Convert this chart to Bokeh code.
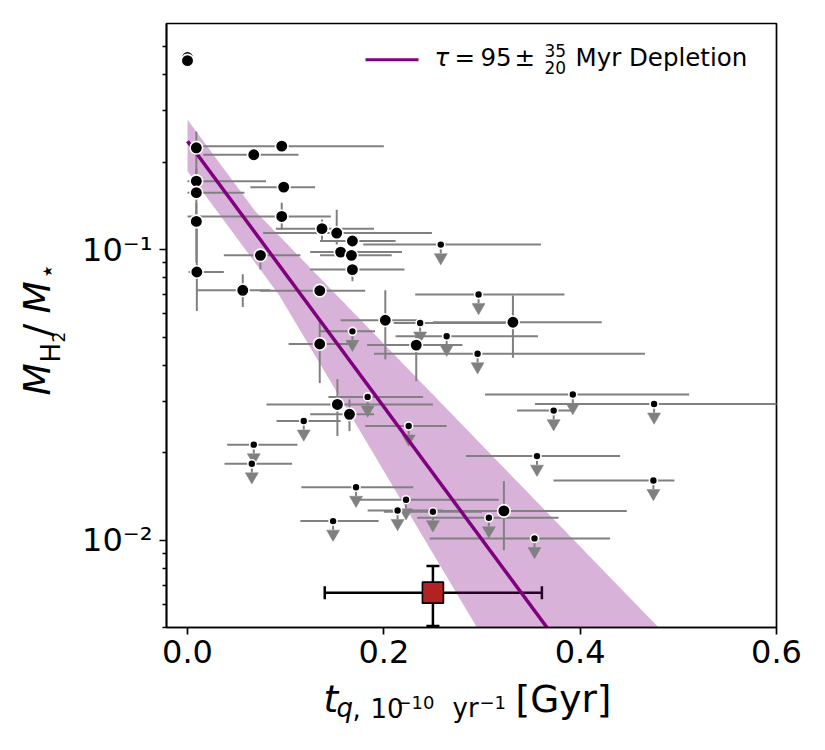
import numpy as np
from bokeh.plotting import figure
from bokeh.layouts import row, column
from bokeh.models import (Range1d, FixedTicker, Label, BoxAnnotation, ColumnDataSource,
                          Whisker, TeeHead, NumeralTickFormatter)
from bokeh.embed import file_html
from bokeh.resources import INLINE

nan = float("nan")

det_t = [0.000, 0.000, 0.009, 0.096, 0.0675, 0.009, 0.009, 0.098, 0.096, 0.009,
         0.137, 0.152, 0.168, 0.0743, 0.156, 0.167, 0.168, 0.0095, 0.0563, 0.1347,
         0.2015, 0.3315, 0.1347, 0.233, 0.1527, 0.165, 0.3223]
det_f = [0.458, 0.447, 0.224, 0.227, 0.212, 0.172, 0.157, 0.164, 0.130, 0.125,
         0.118, 0.114, 0.107, 0.0955, 0.098, 0.0955, 0.0853, 0.0837, 0.0724, 0.0722,
         0.0571, 0.0562, 0.0473, 0.0469, 0.0293, 0.0271, 0.0126]
det_t_lo = [nan, nan, nan, 0.016, 0.016, 0.000, 0.000, 0.064, 0.000, nan,
            0.090, 0.077, 0.135, 0.037, 0.125, 0.135, 0.125, 0.001, 0.0099, 0.074,
            0.156, 0.250, 0.103, 0.183, 0.0805, 0.125, 0.220]
det_t_hi = [nan, nan, nan, 0.200, 0.113, 0.080, 0.058, 0.130, 0.146, nan,
            0.190, 0.249, 0.212, 0.115, 0.2185, 0.208, 0.221, 0.037, 0.0845, 0.181,
            0.234, 0.422, 0.166, 0.280, 0.250, 0.190, 0.4475]
det_f_lo = [nan, nan, 0.160, nan, nan, nan, 0.130, nan, 0.117, 0.090,
            0.108, 0.104, nan, 0.0854, nan, nan, 0.0778, 0.0614, 0.0634, nan,
            0.0419, 0.0424, 0.0347, 0.0352, 0.0228, 0.0237, 0.00923]
det_f_hi = [nan, nan, 0.255, nan, nan, nan, 0.190, nan, 0.145, 0.145,
            0.127, 0.137, nan, 0.100, nan, nan, 0.090, 0.118, 0.0822, nan,
            0.0724, 0.0695, 0.0575, 0.0500, 0.0358, 0.0305, 0.01596]

ul_t = [0.258, 0.2965, 0.237, 0.168, 0.264, 0.2955, 0.3925, 0.1835, 0.4753, 0.373,
        0.1184, 0.2253, 0.0675, 0.356, 0.0655, 0.4746, 0.1717, 0.2226, 0.214, 0.250,
        0.307, 0.1483, 0.3535]
ul_f = [0.104, 0.070, 0.0559, 0.0523, 0.0503, 0.0438, 0.0317, 0.0311, 0.0294, 0.0279,
        0.0257, 0.0247, 0.0213, 0.01945, 0.0183, 0.01604, 0.0152, 0.01377, 0.01264, 0.01251,
        0.01193, 0.01162, 0.01013]
ul_t_lo = [0.179, 0.232, 0.210, 0.134, 0.212, 0.190, 0.303, 0.1435, 0.354, 0.3356,
           0.0906, 0.181, 0.0404, 0.2836, 0.0377, 0.3728, 0.116, 0.173, 0.1835, 0.200,
           0.234, 0.115, 0.2466]
ul_t_hi = [0.360, 0.384, 0.324, 0.191, 0.357, 0.466, 0.511, 0.240, 0.620, 0.393,
           0.156, 0.264, 0.112, 0.4407, 0.1066, 0.496, 0.230, 0.317, 0.260, 0.300,
           0.378, 0.1947, 0.4305]

ref_t, ref_f = [0.25], [0.00659]
ref_t_lo, ref_t_hi = [0.1398], [0.361]
ref_f_lo, ref_f_hi = [0.00506], [0.00814]

fit_A, fit_tau = 0.236, 0.095
band_A_lo, band_A_hi = 0.186, 0.28
band_tau_lo, band_tau_hi = 0.0765, 0.1245

x_ticks = [0.0, 0.2, 0.4, 0.6]
y_ticks = [0.01, 0.1]
y_tick_labels = {0.01: "10\u207b\u00b2", 0.1: "10\u207b\u00b9"}

# ---------------- layout geometry (page px) ----------------
LW = 70
MW, MH = 755, 677
BH = 750 - MH
BL, BR, BT, BB = 96, 49, 23, 50
FH = MH - BT - BB
FRAME_L = LW + BL
FRAME_B = BT + FH

p = figure(width=MW, height=MH, x_range=Range1d(-0.0214, 0.6), y_range=Range1d(0.005, 0.6),
           y_axis_type="log", output_backend="svg", toolbar_location=None,
           min_border_left=BL, min_border_right=BR, min_border_top=BT, min_border_bottom=BB)
p.grid.visible = False
p.outline_line_color = "black"
p.outline_line_width = 1.7
p.background_fill_color = "white"
p.border_fill_color = "white"

t = np.linspace(0.0, 0.6, 1201)
fit_curve = fit_A * np.exp(-t / fit_tau)
band_up = np.maximum(band_A_hi * np.exp(-t / fit_tau), fit_A * np.exp(-t / band_tau_hi))
band_dn = np.minimum(band_A_lo * np.exp(-t / fit_tau), fit_A * np.exp(-t / band_tau_lo))
p.varea(x=t, y1=band_dn, y2=band_up, fill_color="purple", fill_alpha=0.3)

GRAY = "#808080"
dt = [(a, b, c) for a, b, c in zip(det_f, det_t_lo, det_t_hi) if not np.isnan(b)]
p.segment(x0=[d[1] for d in dt], x1=[d[2] for d in dt], y0=[d[0] for d in dt],
          y1=[d[0] for d in dt], line_color=GRAY, line_width=2)
dv = [(a, b, c) for a, b, c in zip(det_t, det_f_lo, det_f_hi) if not np.isnan(b)]
p.segment(x0=[d[0] for d in dv], x1=[d[0] for d in dv], y0=[d[1] for d in dv],
          y1=[d[2] for d in dv], line_color=GRAY, line_width=2)
p.segment(x0=ul_t_lo, x1=ul_t_hi, y0=ul_f, y1=ul_f, line_color=GRAY, line_width=2)
ulf = np.array(ul_f)
p.segment(x0=ul_t, x1=ul_t, y0=ulf, y1=ulf * 10 ** -0.03, line_color=GRAY, line_width=2)
p.scatter(x=ul_t, y=ulf * 10 ** -0.044, marker="inverted_triangle", size=13,
          fill_color=GRAY, line_color=GRAY, line_width=0.5)

p.line(t, fit_curve, line_color="purple", line_width=3.5)

p.scatter(x=det_t, y=det_f, marker="circle", size=12.5, fill_color="black",
          line_color="white", line_width=1.6)
p.scatter(x=ul_t, y=ul_f, marker="circle", size=8, fill_color="black",
          line_color="white", line_width=1.6)

src = ColumnDataSource(dict(x=ref_t, y=ref_f, xl=ref_t_lo, xh=ref_t_hi, yl=ref_f_lo, yh=ref_f_hi))
for base, dim, lo, hi in (("y", "width", "xl", "xh"), ("x", "height", "yl", "yh")):
    p.add_layout(Whisker(base=base, lower=lo, upper=hi, dimension=dim, source=src,
                         line_color="black", line_width=2.5,
                         upper_head=TeeHead(size=13, line_color="black", line_width=2.5),
                         lower_head=TeeHead(size=13, line_color="black", line_width=2.5)))
p.scatter(x="x", y="y", source=src, marker="square", size=21, fill_color="#b22222",
          line_color="black", line_width=1.6)

for ax in (p.xaxis[0], p.yaxis[0]):
    ax.axis_line_color = "black"
    ax.axis_line_width = 1.7
    ax.major_tick_line_color = "black"
    ax.major_tick_line_width = 1.7
    ax.major_tick_out = 7
    ax.major_tick_in = 0
    ax.minor_tick_line_color = "black"
    ax.minor_tick_line_width = 1.3
    ax.minor_tick_out = 4
    ax.minor_tick_in = 0
    ax.major_label_text_font = "DejaVu Sans"
    ax.major_label_text_font_size = "32px"
    ax.major_label_text_color = "black"

p.xaxis.ticker = FixedTicker(ticks=x_ticks, minor_ticks=[])
p.xaxis.formatter = NumeralTickFormatter(format="0.0")
p.xaxis.major_label_standoff = 5
minor_y = [m * 10.0 ** e for e in (-3, -2, -1) for m in range(2, 10)]
p.yaxis.ticker = FixedTicker(ticks=y_ticks, minor_ticks=minor_y)
p.yaxis.major_label_overrides = y_tick_labels
p.yaxis.major_label_standoff = 7


def blank(w, h, l, r, tp, b):
    f = figure(width=w, height=h, x_range=Range1d(0, 1), y_range=Range1d(0, 1),
               x_axis_location=None, y_axis_location=None, output_backend="svg",
               toolbar_location=None, title=None,
               min_border_left=l, min_border_right=r, min_border_top=tp, min_border_bottom=b,
               outline_line_color=None)
    f.grid.visible = False
    f.background_fill_color = "white"
    f.border_fill_color = "white"
    return f


left = blank(LW, 750, 0, 0, BT, 750 - FRAME_B)
bottom = blank(MW, BH, BL, BR, 0, 0)

FRAMES = {"left": (0, FRAME_B), "bottom": (FRAME_L, 750), "main": (FRAME_L, FRAME_B)}
BASE_FIX = 0.4   # label baseline correction, fraction of font size


def txt(fig, key, s, X, Y, size, italic=False, angle=0.0):
    fx, fb = FRAMES[key]
    if angle:
        X = X - BASE_FIX * size
    else:
        Y = Y - BASE_FIX * size
    fig.add_layout(Label(x=X - fx, y=fb - Y, x_units="screen", y_units="screen", text=s,
                         text_font="DejaVu Sans", text_font_size=f"{size}px",
                         text_font_style="italic" if italic else "normal",
                         text_color="black", text_baseline="alphabetic", text_align="left",
                         angle=angle))


# x axis label: t_{q, 10^-10 yr^-1} [Gyr]
txt(bottom, "bottom", "t", 323, 713, 37.5, italic=True)
txt(bottom, "bottom", "q", 336, 718, 26, italic=True)
txt(bottom, "bottom", ",", 352, 718, 26)
txt(bottom, "bottom", "10", 370, 718, 26)
txt(bottom, "bottom", "\u221210", 396, 709, 18)
txt(bottom, "bottom", "yr", 452, 718, 26)
txt(bottom, "bottom", "\u22121", 479, 709, 18)
txt(bottom, "bottom", "[Gyr]", 515, 713, 37.5)

# y axis label: M_{H2}/M_star (rotated)
R = np.pi / 2
txt(left, "left", "M", 51.7, 395, 37.5, italic=True, angle=R)
txt(left, "left", "H", 61, 362, 26, angle=R)
txt(left, "left", "2", 65, 342, 17, angle=R)
txt(left, "left", "/", 51.7, 336, 37.5, angle=R)
txt(left, "left", "M", 51.7, 313, 37.5, italic=True, angle=R)
txt(left, "left", "\u22c6", 57, 279, 26, angle=R)

# legend
p.add_layout(BoxAnnotation(left=365 - FRAME_L, right=418 - FRAME_L,
                           bottom=FRAME_B - 60.8, top=FRAME_B - 57.8,
                           left_units="screen", right_units="screen",
                           bottom_units="screen", top_units="screen",
                           fill_color="purple", fill_alpha=1.0, line_color=None))
txt(p, "main", "\u03c4", 434, 66.7, 24.5, italic=True)
txt(p, "main", "=", 454, 66.7, 24.5)
txt(p, "main", "95", 480, 66.7, 24.5)
txt(p, "main", "\u00b1", 514, 66.7, 24.5)
txt(p, "main", "35", 544, 56.7, 17)
txt(p, "main", "20", 544, 73.3, 17)
txt(p, "main", "Myr Depletion", 575, 66.7, 24.5)

layout = row(left, column(p, bottom, spacing=0), spacing=0)
open("out.html", "w").write(file_html(layout, INLINE))
